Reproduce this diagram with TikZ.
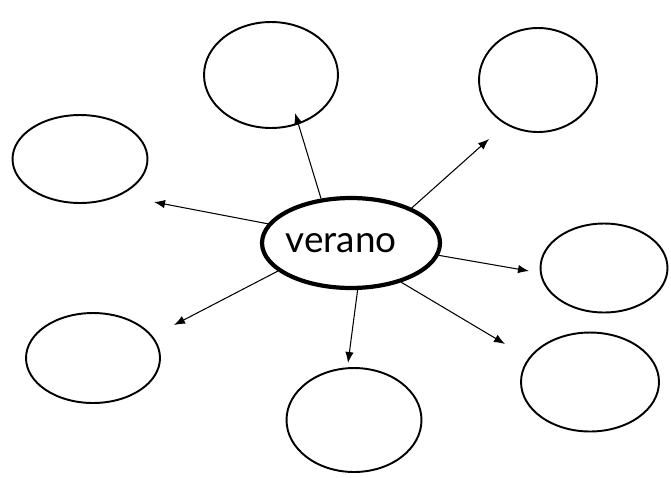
\documentclass[tikz,border=0pt]{standalone}
\usepackage{fontspec}
\setmainfont{Lato}
\usepackage{tikz}
\usetikzlibrary{shapes.geometric,arrows.meta}

\begin{document}
\begin{tikzpicture}[x=0.02cm,y=-0.02cm,
		bubble/.style={ellipse,draw,line width=1.1pt,inner sep=0pt},
		hub/.style={ellipse,draw,line width=2.4pt,inner sep=0pt,minimum width=3.56cm,minimum height=1.8cm},
		word/.style={font=\fontsize{21}{24}\selectfont,xshift=-0.2cm},
		spoke/.style={-{Latex[length=2.2mm,width=1.7mm]},line width=0.6pt}
	]
	\useasboundingbox (0,0) rectangle (671,477);
	
	\node [hub,label={[word]center:verano}] (verano) at (351,243) {};
	
	\node [bubble,minimum width=2.68cm,minimum height=2.12cm] (top) at (271,75) {};
	\node [bubble,minimum width=2.36cm,minimum height=2.08cm] (topright) at (538,80) {};
	\node [bubble,minimum width=2.70cm,minimum height=1.76cm] (left) at (80,159) {};
	\node [bubble,minimum width=2.54cm,minimum height=1.78cm] (right) at (604,268) {};
	\node [bubble,minimum width=2.68cm,minimum height=1.80cm] (botleft) at (93,358) {};
	\node [bubble,minimum width=2.76cm,minimum height=1.98cm] (botright) at (590,382) {};
	\node [bubble,minimum width=2.70cm,minimum height=2.08cm] (bottom) at (354,420) {};
	
	\coordinate (tip1) at (295,113);
	\coordinate (tip2) at (489,139);
	\coordinate (tip3) at (154,202);
	\coordinate (tip4) at (529,271);
	\coordinate (tip5) at (174,325);
	\coordinate (tip6) at (348,363);
	\coordinate (tip7) at (505,344);
	
	\draw [spoke] (verano.124) -- (tip1);
	\draw [spoke] (verano.30) -- (tip2);
	\draw [spoke] (verano.167) -- (tip3);
	\draw [spoke] (verano.-8) -- (tip4);
	\draw [spoke] (verano.201) -- (tip5);
	\draw [spoke] (verano.-82) -- (tip6);
	\draw [spoke] (verano.-38) -- (tip7);
\end{tikzpicture}
\end{document}
